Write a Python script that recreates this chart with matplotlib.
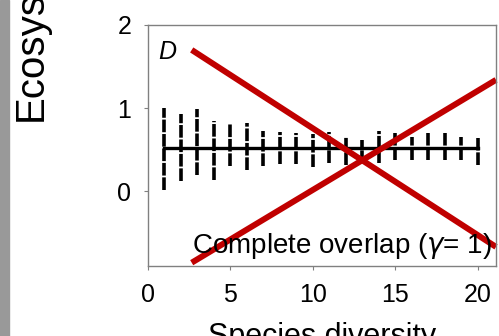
import numpy as np
import matplotlib.pyplot as plt
from matplotlib.patches import Rectangle

plt.rcParams['font.family'] = ['Liberation Sans', 'DejaVu Sans']
plt.rcParams['mathtext.fontset'] = 'custom'
plt.rcParams['mathtext.rm'] = 'Liberation Sans'
plt.rcParams['mathtext.it'] = 'DejaVu Sans:italic'

# species richness and simulated ecosystem response (range and mean)
species = np.arange(1, 21)
low = [0.01, 0.12, 0.20, 0.14, 0.30, 0.25, 0.30, 0.33, 0.33, 0.29,
       0.34, 0.31, 0.34, 0.34, 0.37, 0.37, 0.37, 0.37, 0.37, 0.31]
high = [1.00, 0.93, 0.99, 0.84, 0.82, 0.82, 0.72, 0.71, 0.70, 0.69,
        0.71, 0.65, 0.62, 0.73, 0.70, 0.65, 0.70, 0.70, 0.65, 0.64]
mean_level = 0.52

# strike-through lines across the panel
cross_x = [2.65, 21.1]
cross_down = [1.70, -0.67]
cross_up = [-0.86, 1.34]

xticks = [0, 5, 10, 15, 20]
yticks = [0, 1, 2]

fig = plt.figure(figsize=(4.99, 3.36), dpi=100)
ax = fig.add_axes([0.2966, 0.2083, 0.6974, 0.7173])

ax.vlines(species, low, high, colors='black', linewidth=2.6,
          linestyles=(0, (3.5, 0.5)))
ax.plot([species[0], species[-1]], [mean_level, mean_level], color='black',
        linewidth=2.4)

ax.plot(cross_x, cross_down, color='#c00000', linewidth=4.3,
        solid_capstyle='butt', clip_on=False)
ax.plot(cross_x, cross_up, color='#c00000', linewidth=4.3,
        solid_capstyle='butt', clip_on=False)

ax.text(0.6, 1.82, 'D', fontsize=18, fontstyle='italic', va='top', ha='left')
ax.text(20.85, -0.74, r'Complete overlap ($\gamma$= 1)', fontsize=20,
        ha='right', va='baseline')

ax.set_xlim(0, 21.1)
ax.set_ylim(-0.9, 2.0)
ax.set_xticks(xticks)
ax.set_yticks(yticks)
ax.tick_params(labelsize=18, length=3, width=0.8, color='#808080', pad=9)
for s in ax.spines.values():
    s.set_color('#808080')
    s.set_linewidth(1.0)

fig.add_artist(Rectangle((0, 0), 9 / 499, 1, transform=fig.transFigure,
                         color='#999999', zorder=0))
fig.text(42 / 499, 1 - 121 / 336, 'Ecosys', fontsize=29, rotation=90,
         rotation_mode='anchor', ha='left', va='baseline')
fig.text(322 / 499, 1 - 345 / 336, 'Species diversity', fontsize=22,
         ha='center', va='baseline')

fig.savefig('out.png', dpi=100)
